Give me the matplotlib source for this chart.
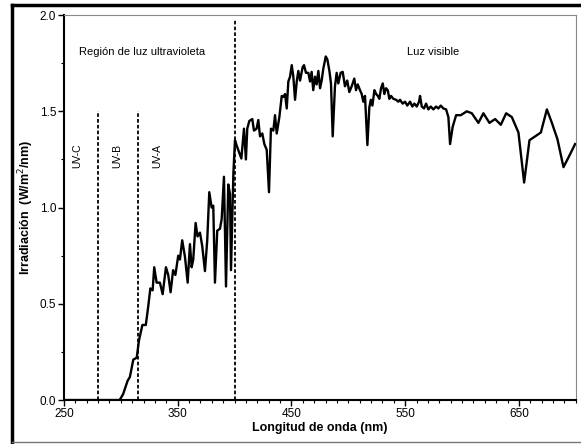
import matplotlib.pyplot as plt
from matplotlib.lines import Line2D
from matplotlib.ticker import MultipleLocator, FixedLocator, FormatStrFormatter

# Wavelength (nm) and irradiance (W/m2/nm)
wavelength = [250, 299, 302, 306, 308, 311, 314, 316, 319, 322, 324, 326, 328, 329.4,
              331.5, 334.4, 336.8, 339.7, 341.7, 343.8, 346, 348, 350.5, 352, 354,
              356.4, 358.8, 360.8, 362.3, 363.7, 365.8, 367.5, 369.6, 371.6, 374,
              376, 377.8, 379.9, 381.3, 382.8, 384.8, 387.2, 388.7, 390.7, 392.5,
              394.5, 396, 396.9, 399, 400.4, 402, 406, 408.3, 410, 411.2, 413,
              415.6, 417.1, 419.4, 420.9, 422.4, 424.4, 426.2, 428.3, 430.3, 432,
              434.1, 435.6, 437.1, 439.4, 441.5, 443, 444.4, 445.9, 447.3, 448.8,
              450.3, 451.7, 453.2, 454.7, 456.1, 457.6, 459.9, 461.1, 462.8, 464.9,
              466.4, 467.8, 469.2, 470.8, 472.2, 473.7, 475.2, 476.6, 478, 480.2,
              481.6, 483.4, 484.8, 486.3, 488.3, 489.8, 491.2, 493.3, 495.1, 497.1,
              499.1, 500.9, 503, 505.3, 506.8, 508.3, 510.3, 511.8, 513.2, 514.7,
              516.8, 518.5, 519.8, 521.2, 523, 524.5, 526, 527.3, 528.8, 530.3,
              531.7, 533.2, 534.7, 536.1, 537.6, 539.6, 542, 544, 545.5, 547.8,
              549.9, 551.9, 554.3, 556.3, 558.1, 560.2, 562.2, 563.1, 564.6, 566.6,
              568.4, 570.4, 572.5, 574.8, 577.2, 579.2, 581.3, 583.6, 586, 588,
              589.5, 591.8, 594.8, 598.9, 604.2, 608.6, 614.4, 618.8, 624.1, 629.1,
              634.1, 638.8, 643.8, 649.6, 654.6, 659.3, 664.3, 669.3, 674.6, 679,
              683.9, 689.2, 694.4, 699.4]
irradiance = [0.0, 0.0, 0.03, 0.10, 0.12, 0.21, 0.22, 0.31, 0.39, 0.39, 0.48, 0.58, 0.57, 0.69,
              0.61, 0.61, 0.55, 0.69, 0.65, 0.56, 0.675, 0.65, 0.75, 0.73, 0.83,
              0.745, 0.61, 0.81, 0.69, 0.73, 0.92, 0.85, 0.87, 0.80, 0.67,
              0.83, 1.08, 1.00, 1.01, 0.61, 0.88, 0.89, 0.94, 1.16, 0.59,
              1.12, 1.07, 0.675, 1.18, 1.35, 1.32, 1.255, 1.41, 1.25, 1.41, 1.45,
              1.46, 1.40, 1.41, 1.455, 1.37, 1.385, 1.33, 1.30, 1.08, 1.41,
              1.40, 1.48, 1.385, 1.47, 1.58, 1.575, 1.59, 1.515, 1.655, 1.68,
              1.74, 1.68, 1.56, 1.655, 1.71, 1.66, 1.73, 1.74, 1.70, 1.70,
              1.655, 1.705, 1.61, 1.68, 1.64, 1.71, 1.62, 1.66, 1.72, 1.785,
              1.77, 1.71, 1.645, 1.37, 1.63, 1.70, 1.645, 1.70, 1.705, 1.63,
              1.66, 1.60, 1.63, 1.67, 1.61, 1.64, 1.61, 1.59, 1.55, 1.58,
              1.325, 1.52, 1.56, 1.53, 1.61, 1.59, 1.58, 1.565, 1.62, 1.645,
              1.59, 1.62, 1.61, 1.565, 1.58, 1.565, 1.56, 1.55, 1.56, 1.54,
              1.55, 1.53, 1.55, 1.525, 1.54, 1.525, 1.55, 1.58, 1.525, 1.515,
              1.54, 1.51, 1.525, 1.51, 1.525, 1.515, 1.53, 1.515, 1.51, 1.47,
              1.33, 1.42, 1.48, 1.48, 1.50, 1.49, 1.44, 1.49, 1.44, 1.46,
              1.43, 1.49, 1.47, 1.39, 1.13, 1.35, 1.37, 1.39, 1.51, 1.44,
              1.355, 1.21, 1.27, 1.33]

# Band boundaries (nm) and how high each dashed line reaches
BOUNDARIES = [280, 315, 400]
BOUNDARY_TOPS = [1.5, 1.5, 1.98]
BAND_LABELS = ['UV-C', 'UV-B', 'UV-A']
BAND_LABEL_X = [262, 297, 332]
X_TICKS = [250, 350, 450, 550, 650]

plt.rcParams['font.family'] = ['Liberation Sans', 'DejaVu Sans']

fig = plt.figure(figsize=(5.81, 4.44), dpi=100)
ax = fig.add_axes([0.110, 0.099, 0.881, 0.867])

# Spectrum
ax.plot(wavelength, irradiance, color='black', linewidth=1.7)

# Dashed band boundaries
for x, top in zip(BOUNDARIES, BOUNDARY_TOPS):
    ax.plot([x, x], [0, top], color='black', linewidth=1.3, linestyle=(0, (2.0, 1.2)))

# Band labels
for x, label in zip(BAND_LABEL_X, BAND_LABELS):
    ax.text(x, 1.27, label, rotation=90, ha='center', va='center', fontsize=7.5)
ax.text(263, 1.81, 'Región de luz ultravioleta', ha='left', va='center', fontsize=8)
ax.text(575, 1.81, 'Luz visible', ha='center', va='center', fontsize=8)

# Axes limits and ticks
ax.set_xlim(250, 700)
ax.set_ylim(0, 2.0)
ax.xaxis.set_major_locator(FixedLocator(X_TICKS))
ax.xaxis.set_minor_locator(MultipleLocator(10))
ax.yaxis.set_major_locator(MultipleLocator(0.5))
ax.yaxis.set_minor_locator(MultipleLocator(0.25))
ax.yaxis.set_major_formatter(FormatStrFormatter('%.1f'))
ax.tick_params(which='major', direction='out', length=4, width=1, labelsize=8.5, pad=1.5)
ax.tick_params(which='minor', direction='out', length=2.5, width=0.8)

ax.set_xlabel('Longitud de onda (nm)', fontsize=9, fontweight='bold', labelpad=2)
ax.set_ylabel('Irradiación  (W/m$^2$/nm)', fontsize=9, fontweight='bold', labelpad=3)

# Spines: black left/bottom, grey top/right
ax.spines['left'].set_linewidth(1.5)
ax.spines['bottom'].set_linewidth(1.5)
ax.spines['top'].set_color('#888888')
ax.spines['right'].set_color('#888888')

# Outer frame of the figure
fig.add_artist(Line2D([0.021, 1.0], [0.989, 0.989], color='black', linewidth=2.5,
                      transform=fig.transFigure))
fig.add_artist(Line2D([0.021, 0.021], [0.005, 0.989], color='black', linewidth=2.5,
                      transform=fig.transFigure))
fig.add_artist(Line2D([0.021, 1.0], [0.005, 0.005], color='#777777', linewidth=1,
                      transform=fig.transFigure))

plt.savefig('out.png', dpi=100)
